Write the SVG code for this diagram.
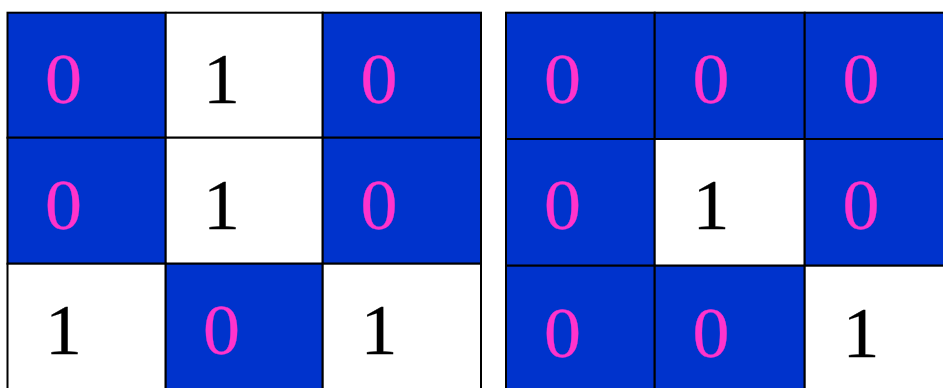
<svg xmlns="http://www.w3.org/2000/svg" width="943" height="388" viewBox="0 0 943 388">
<style>
.b{fill:#0033CC;stroke:#000;stroke-width:2}
.w{fill:#FFFFFF;stroke:#000;stroke-width:2}
text{font-family:"Liberation Serif","Times New Roman",serif;font-size:71px;stroke-width:0.3}
.t0{fill:#FF33CC;stroke:#FF33CC}
.t1{fill:#000000;stroke:#000000}
</style>
<rect width="943" height="388" fill="#FFFFFF"/>
<g id="left-grid">
<g id="L00"><rect class="b" x="7.5" y="12.7" width="158.2" height="125"/><text class="t0" x="45" y="102.5" textLength="37" lengthAdjust="spacingAndGlyphs">0</text></g>
<g id="L01"><rect class="w" x="165.7" y="12.7" width="157" height="125"/><text class="t1" x="203" y="102.5" textLength="37" lengthAdjust="spacingAndGlyphs">1</text></g>
<g id="L02"><rect class="b" x="322.7" y="12.7" width="158.3" height="125"/><text class="t0" x="360.5" y="102.5" textLength="37" lengthAdjust="spacingAndGlyphs">0</text></g>
<g id="L10"><rect class="b" x="7.5" y="137.7" width="158.2" height="126"/><text class="t0" x="45" y="228.7" textLength="37" lengthAdjust="spacingAndGlyphs">0</text></g>
<g id="L11"><rect class="w" x="165.7" y="137.7" width="157" height="126"/><text class="t1" x="203" y="228.7" textLength="37" lengthAdjust="spacingAndGlyphs">1</text></g>
<g id="L12"><rect class="b" x="322.7" y="137.7" width="158.3" height="126"/><text class="t0" x="360.5" y="228.7" textLength="37" lengthAdjust="spacingAndGlyphs">0</text></g>
<g id="L20"><rect class="w" x="7.5" y="263.7" width="158.2" height="130"/><text class="t1" x="45" y="354.3" textLength="37" lengthAdjust="spacingAndGlyphs">1</text></g>
<g id="L21"><rect class="b" x="165.7" y="263.7" width="157" height="130"/><text class="t0" x="203" y="354.3" textLength="37" lengthAdjust="spacingAndGlyphs">0</text></g>
<g id="L22"><rect class="w" x="322.7" y="263.7" width="158.3" height="130"/><text class="t1" x="360.5" y="354.3" textLength="37" lengthAdjust="spacingAndGlyphs">1</text></g>
</g>
<g id="right-grid">
<g id="R00"><rect class="b" x="506" y="12.7" width="148.7" height="126.3"/><text class="t0" x="544" y="102.5" textLength="37" lengthAdjust="spacingAndGlyphs">0</text></g>
<g id="R01"><rect class="b" x="654.7" y="12.7" width="150" height="126.3"/><text class="t0" x="692.5" y="102.5" textLength="37" lengthAdjust="spacingAndGlyphs">0</text></g>
<g id="R02"><rect class="b" x="804.7" y="12.7" width="150" height="126.3"/><text class="t0" x="842.5" y="102.5" textLength="37" lengthAdjust="spacingAndGlyphs">0</text></g>
<g id="R10"><rect class="b" x="506" y="139" width="148.7" height="126.7"/><text class="t0" x="544" y="229.3" textLength="37" lengthAdjust="spacingAndGlyphs">0</text></g>
<g id="R11"><rect class="w" x="654.7" y="139" width="150" height="126.7"/><text class="t1" x="692.5" y="229.3" textLength="37" lengthAdjust="spacingAndGlyphs">1</text></g>
<g id="R12"><rect class="b" x="804.7" y="139" width="150" height="126.7"/><text class="t0" x="842.5" y="229.3" textLength="37" lengthAdjust="spacingAndGlyphs">0</text></g>
<g id="R20"><rect class="b" x="506" y="265.7" width="148.7" height="130"/><text class="t0" x="544" y="356.5" textLength="37" lengthAdjust="spacingAndGlyphs">0</text></g>
<g id="R21"><rect class="b" x="654.7" y="265.7" width="150" height="130"/><text class="t0" x="692.5" y="356.5" textLength="37" lengthAdjust="spacingAndGlyphs">0</text></g>
<g id="R22"><rect class="w" x="804.7" y="265.7" width="150" height="130"/><text class="t1" x="842.5" y="356.5" textLength="37" lengthAdjust="spacingAndGlyphs">1</text></g>
</g>
<g id="connectors"/>
</svg>
